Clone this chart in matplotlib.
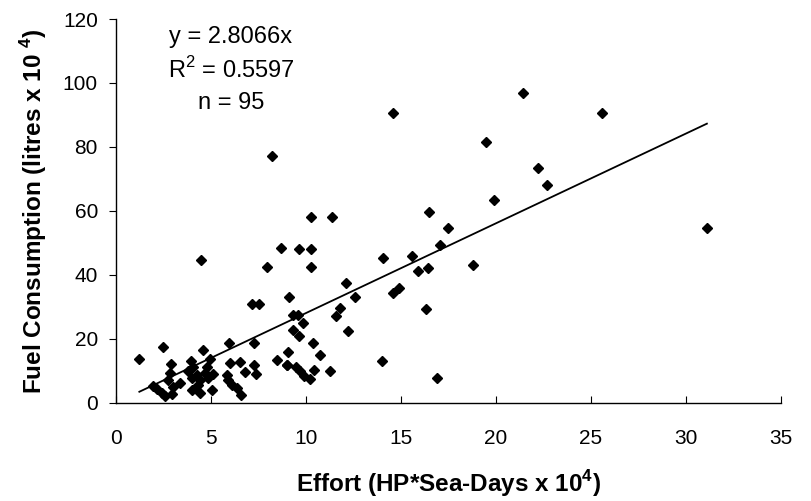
import matplotlib
matplotlib.use("Agg")
import matplotlib.pyplot as plt
import numpy as np

plt.rcParams["font.family"] = ["Liberation Sans", "DejaVu Sans"]
plt.rcParams["mathtext.fontset"] = "custom"
plt.rcParams["mathtext.rm"] = "Liberation Sans"
plt.rcParams["mathtext.bf"] = "Liberation Sans:bold"

# Effort (HP*Sea-Days x 10^4) and fuel consumption (litres x 10^4)
effort = [
    14.6, 21.4, 25.6, 19.5, 22.2, 22.7, 19.9, 16.5, 17.5, 17.05,
    14.07, 15.6, 15.9, 16.4, 18.8, 14.6, 14.9, 16.3, 14.0, 16.9,
    31.1, 4.47, 8.2, 10.25, 11.35, 8.67, 9.65, 10.24, 7.93, 10.25,
    12.1, 12.58, 9.12, 7.14, 7.53, 9.33, 9.6, 9.86, 11.8, 11.6,
    12.2, 9.33, 9.65, 10.35, 10.72, 9.03, 8.45, 9.0, 9.45, 9.7,
    9.9, 10.2, 10.44, 11.26, 5.96, 7.26, 4.6, 4.95, 6.0, 6.53,
    7.28, 6.79, 7.35, 5.12, 4.68, 4.77, 5.82, 5.9, 6.09, 6.35,
    6.6, 5.04, 1.23, 2.46, 2.9, 1.97, 2.14, 2.4, 2.58, 2.84,
    2.75, 3.0, 2.93, 3.37, 3.95, 4.07, 3.8, 3.98, 4.25, 4.42,
    4.33, 3.98, 4.42, 4.86, 8.98,
]
fuel = [
    90.5, 97.0, 90.5, 81.7, 73.5, 68.0, 63.5, 59.7, 54.7, 49.2,
    45.4, 45.9, 41.3, 42.1, 43.1, 34.3, 35.8, 29.3, 13.2, 7.7,
    54.7, 44.7, 77.3, 58.0, 58.0, 48.5, 48.0, 48.0, 42.6, 42.6,
    37.6, 33.2, 33.2, 30.9, 30.9, 27.3, 27.3, 25.0, 29.5, 27.1,
    22.6, 22.7, 21.0, 18.7, 15.0, 16.0, 13.3, 11.9, 11.1, 9.8,
    8.4, 7.4, 10.4, 10.0, 18.8, 18.8, 16.6, 13.8, 12.4, 12.9,
    11.9, 9.5, 9.0, 9.0, 9.3, 11.3, 8.75, 7.2, 5.6, 4.6,
    2.5, 4.1, 13.6, 17.3, 12.1, 5.3, 4.3, 3.0, 2.0, 9.3,
    7.2, 4.9, 2.7, 6.2, 13.1, 11.3, 9.8, 7.7, 8.75, 7.2,
    5.6, 4.1, 3.2, 7.7, 11.9,
]
slope = 2.8066
r_squared = 0.5597

fig = plt.figure(figsize=(8.11, 5.01), dpi=100)
ax = fig.add_axes([0.143, 0.196, 0.820, 0.766])

ax.plot(effort, fuel, linestyle="none", marker="D", markersize=5.6,
        color="black", zorder=3)

fit_x = np.array([min(effort), max(effort)])
ax.plot(fit_x, slope * fit_x, color="black", linewidth=1.3, zorder=2)

ax.set_xlim(0, 35)
ax.set_ylim(0, 120)
ax.set_xticks(range(0, 36, 5))
ax.set_yticks(range(0, 121, 20))

for side in ("top", "right"):
    ax.spines[side].set_visible(False)
for side in ("left", "bottom"):
    ax.spines[side].set_linewidth(1.0)

ax.tick_params(axis="x", direction="in", length=5, pad=19, labelsize=15)
ax.tick_params(axis="y", direction="out", length=5, pad=8, labelsize=15)

ax.set_xlabel(r"Effort (HP*Sea-Days x 10$^\mathbf{4}$)", fontsize=17.5,
              fontweight="bold", labelpad=14)
ax.set_ylabel(r"Fuel Consumption (litres x 10 $^\mathbf{4}$)", fontsize=17.5,
              fontweight="bold", labelpad=10)

ax.text(0.173, 0.953, f"y = {slope}x", transform=ax.transAxes,
        ha="center", va="center", fontsize=17)
ax.text(0.173, 0.867, f"R$^2$ = {r_squared}", transform=ax.transAxes,
        ha="center", va="center", fontsize=17)
ax.text(0.173, 0.781, f"n = {len(effort)}", transform=ax.transAxes,
        ha="center", va="center", fontsize=17)

fig.savefig("out.png", dpi=100)
